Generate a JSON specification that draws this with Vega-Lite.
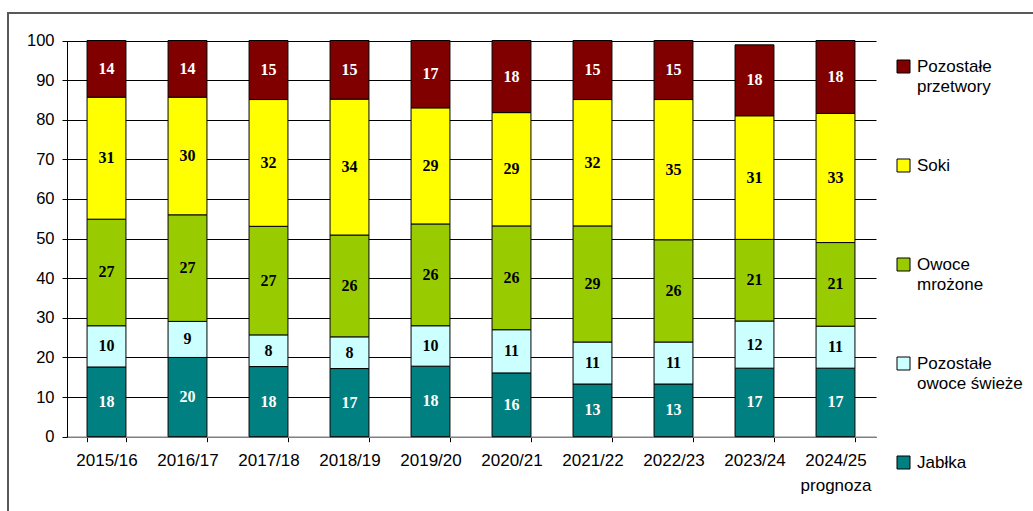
{
  "$schema": "https://vega.github.io/schema/vega-lite/v6.json",
  "width": 1029,
  "height": 502,
  "autosize": {"type": "none"},
  "padding": {"left": 8, "top": 13, "right": -4, "bottom": -4},
  "background": "white",
  "data": {
    "values": [
      {"year": "2015/16", "series": "Jabłka", "value": 17.6},
      {"year": "2015/16", "series": "Pozostałe owoce świeże", "value": 10.4},
      {"year": "2015/16", "series": "Owoce mrożone", "value": 26.9},
      {"year": "2015/16", "series": "Soki", "value": 30.8},
      {"year": "2015/16", "series": "Pozostałe przetwory", "value": 14.3},
      {"year": "2016/17", "series": "Jabłka", "value": 20.0},
      {"year": "2016/17", "series": "Pozostałe owoce świeże", "value": 9.1},
      {"year": "2016/17", "series": "Owoce mrożone", "value": 26.9},
      {"year": "2016/17", "series": "Soki", "value": 29.7},
      {"year": "2016/17", "series": "Pozostałe przetwory", "value": 14.3},
      {"year": "2017/18", "series": "Jabłka", "value": 17.7},
      {"year": "2017/18", "series": "Pozostałe owoce świeże", "value": 8.0},
      {"year": "2017/18", "series": "Owoce mrożone", "value": 27.4},
      {"year": "2017/18", "series": "Soki", "value": 32.0},
      {"year": "2017/18", "series": "Pozostałe przetwory", "value": 14.9},
      {"year": "2018/19", "series": "Jabłka", "value": 17.2},
      {"year": "2018/19", "series": "Pozostałe owoce świeże", "value": 8.0},
      {"year": "2018/19", "series": "Owoce mrożone", "value": 25.7},
      {"year": "2018/19", "series": "Soki", "value": 34.3},
      {"year": "2018/19", "series": "Pozostałe przetwory", "value": 14.8},
      {"year": "2019/20", "series": "Jabłka", "value": 17.8},
      {"year": "2019/20", "series": "Pozostałe owoce świeże", "value": 10.2},
      {"year": "2019/20", "series": "Owoce mrożone", "value": 25.7},
      {"year": "2019/20", "series": "Soki", "value": 29.3},
      {"year": "2019/20", "series": "Pozostałe przetwory", "value": 17.0},
      {"year": "2020/21", "series": "Jabłka", "value": 16.1},
      {"year": "2020/21", "series": "Pozostałe owoce świeże", "value": 10.9},
      {"year": "2020/21", "series": "Owoce mrożone", "value": 26.2},
      {"year": "2020/21", "series": "Soki", "value": 28.6},
      {"year": "2020/21", "series": "Pozostałe przetwory", "value": 18.2},
      {"year": "2021/22", "series": "Jabłka", "value": 13.3},
      {"year": "2021/22", "series": "Pozostałe owoce świeże", "value": 10.6},
      {"year": "2021/22", "series": "Owoce mrożone", "value": 29.3},
      {"year": "2021/22", "series": "Soki", "value": 31.9},
      {"year": "2021/22", "series": "Pozostałe przetwory", "value": 14.9},
      {"year": "2022/23", "series": "Jabłka", "value": 13.3},
      {"year": "2022/23", "series": "Pozostałe owoce świeże", "value": 10.6},
      {"year": "2022/23", "series": "Owoce mrożone", "value": 25.8},
      {"year": "2022/23", "series": "Soki", "value": 35.4},
      {"year": "2022/23", "series": "Pozostałe przetwory", "value": 14.9},
      {"year": "2023/24", "series": "Jabłka", "value": 17.3},
      {"year": "2023/24", "series": "Pozostałe owoce świeże", "value": 11.9},
      {"year": "2023/24", "series": "Owoce mrożone", "value": 20.6},
      {"year": "2023/24", "series": "Soki", "value": 31.2},
      {"year": "2023/24", "series": "Pozostałe przetwory", "value": 17.9},
      {"year": "2024/25", "series": "Jabłka", "value": 17.3},
      {"year": "2024/25", "series": "Pozostałe owoce świeże", "value": 10.6},
      {"year": "2024/25", "series": "Owoce mrożone", "value": 21.1},
      {"year": "2024/25", "series": "Soki", "value": 32.6},
      {"year": "2024/25", "series": "Pozostałe przetwory", "value": 18.4}
    ]
  },
  "transform": [
    {"calculate": "indexof(['Jabłka','Pozostałe owoce świeże','Owoce mrożone','Soki','Pozostałe przetwory'], datum.series)", "as": "ord"},
    {"stack": "value", "groupby": ["year"], "sort": [{"field": "ord", "order": "ascending"}], "as": ["v0", "v1"]},
    {"calculate": "(datum.v0 + datum.v1) / 2", "as": "mid"}
  ],
  "encoding": {
    "x": {
      "field": "year",
      "type": "nominal",
      "sort": null,
      "title": null,
      "scale": {"range": [58, 868], "paddingInner": 0.52, "paddingOuter": 0.26},
      "axis": {
        "offset": -78.3,
        "labelAngle": 0,
        "labelFont": "Liberation Sans",
        "labelFontSize": 17,
        "labelColor": "black",
        "labelPadding": 11,
        "labelLineHeight": 25,
        "labelExpr": "datum.value == '2024/25' ? ['2024/25', 'prognoza'] : datum.label",
        "tickBand": "extent",
        "tickSize": 5,
        "tickColor": "black",
        "domainColor": "#808080",
        "domainWidth": 1.5,
        "grid": false
      }
    }
  },
  "layer": [
    {
      "mark": {"type": "bar", "stroke": "black", "strokeWidth": 1, "opacity": 1},
      "encoding": {
        "y": {
          "field": "v1",
          "type": "quantitative",
          "title": null,
          "scale": {"domain": [0, 100], "range": [423.7, 27.5], "nice": false},
          "axis": {
            "offset": -59,
            "values": [0, 10, 20, 30, 40, 50, 60, 70, 80, 90, 100],
            "labelFont": "Liberation Sans",
            "labelFontSize": 16.5,
            "labelColor": "black",
            "labelPadding": 8,
            "tickSize": 5,
            "tickColor": "black",
            "domainColor": "black",
            "grid": true,
            "gridColor": "black",
            "gridWidth": 1,
            "gridOpacity": 1
          }
        },
        "y2": {"field": "v0"},
        "color": {
          "field": "series",
          "type": "nominal",
          "scale": {
            "domain": ["Pozostałe przetwory", "Soki", "Owoce mrożone", "Pozostałe owoce świeże", "Jabłka"],
            "range": ["#800000", "#FFFF00", "#99CC00", "#CCFFFF", "#008080"]
          },
          "legend": {
            "title": null,
            "orient": "none",
            "legendX": 887,
            "legendY": 45,
            "padding": 0,
            "rowPadding": 61,
            "symbolType": "square",
            "symbolSize": 169,
            "symbolStrokeColor": "black",
            "symbolStrokeWidth": 1,
            "symbolOpacity": 1,
            "labelFont": "Liberation Sans",
            "labelFontSize": 17,
            "labelColor": "black",
            "labelOffset": 5,
            "labelLimit": 200,
            "labelBaseline": "middle",
            "labelExpr": "datum.label == 'Pozostałe przetwory' ? ['Pozostałe', 'przetwory'] : datum.label == 'Soki' ? ['Soki', ''] : datum.label == 'Owoce mrożone' ? ['Owoce', 'mrożone'] : datum.label == 'Pozostałe owoce świeże' ? ['Pozostałe', 'owoce świeże'] : ['Jabłka', '']",
            "encode": {"labels": {"update": {"lineHeight": {"value": 20.5}}}}
          }
        }
      }
    },
    {
      "mark": {"type": "text", "font": "Liberation Serif", "fontWeight": "bold", "fontSize": 16, "baseline": "middle", "align": "center"},
      "encoding": {
        "y": {"field": "mid", "type": "quantitative"},
        "text": {"field": "value", "type": "quantitative", "format": ".0f"},
        "color": {
          "condition": {"test": "datum.series == 'Jabłka' || datum.series == 'Pozostałe przetwory'", "value": "white"},
          "value": "black"
        }
      }
    }
  ],
  "config": {
    "view": {"stroke": "#595959", "strokeWidth": 2},
    "axis": {"labelFont": "Liberation Sans"}
  }
}
